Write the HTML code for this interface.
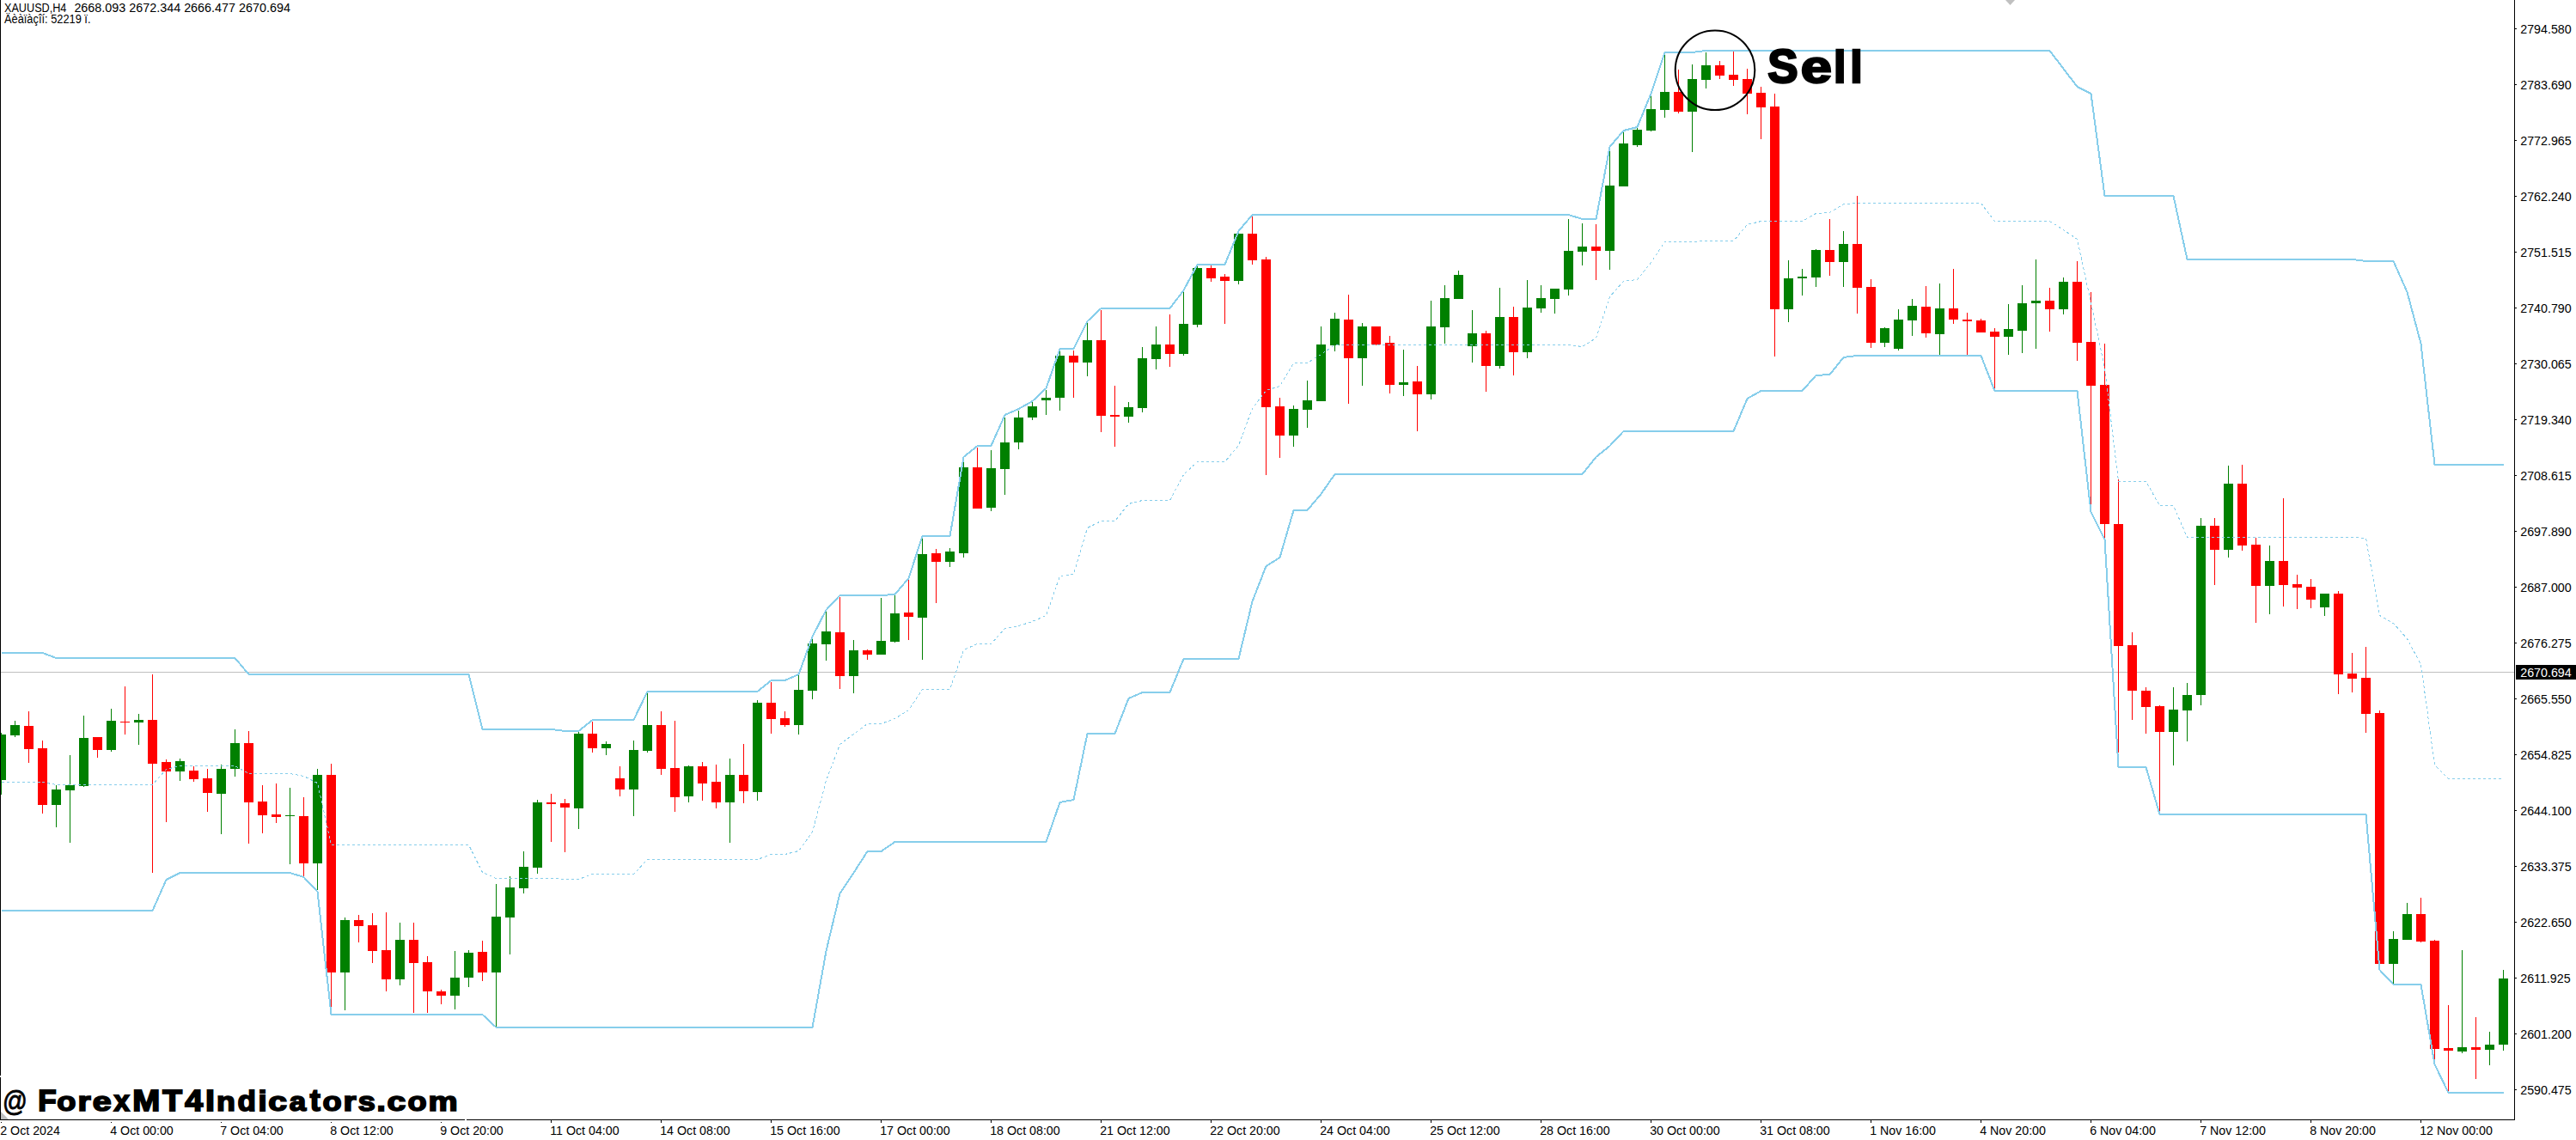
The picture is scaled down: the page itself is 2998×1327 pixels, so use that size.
<!DOCTYPE html>
<html><head><meta charset="utf-8"><title>XAUUSD,H4</title>
<style>html,body{margin:0;padding:0;background:#fff;}body{width:2998px;height:1327px;overflow:hidden;position:relative;font-family:"Liberation Sans",sans-serif;}svg{position:absolute;left:0;top:0;display:block}text{font-family:"Liberation Sans",sans-serif;}</style></head><body>
<svg width="2998" height="1327" viewBox="0 0 2998 1327">
<rect x="0" y="0" width="2998" height="1327" fill="#ffffff"/>
<rect x="1" y="782" width="2925" height="1" fill="#c0c0c0" shape-rendering="crispEdges"/>
<g shape-rendering="crispEdges">
<rect x="1" y="853" width="1" height="72" fill="#008000"/>
<rect x="1" y="855" width="6" height="53" fill="#008000"/>
<rect x="17" y="839" width="1" height="19" fill="#008000"/>
<rect x="12" y="844" width="11" height="12" fill="#008000"/>
<rect x="33" y="828" width="1" height="60" fill="#ff0000"/>
<rect x="28" y="845" width="11" height="27" fill="#ff0000"/>
<rect x="49" y="862" width="1" height="85" fill="#ff0000"/>
<rect x="44" y="871" width="11" height="66" fill="#ff0000"/>
<rect x="65" y="914" width="1" height="49" fill="#008000"/>
<rect x="60" y="919" width="11" height="18" fill="#008000"/>
<rect x="81" y="879" width="1" height="102" fill="#008000"/>
<rect x="76" y="914" width="11" height="6" fill="#008000"/>
<rect x="97" y="833" width="1" height="83" fill="#008000"/>
<rect x="92" y="859" width="11" height="56" fill="#008000"/>
<rect x="113" y="858" width="1" height="24" fill="#ff0000"/>
<rect x="108" y="858" width="11" height="15" fill="#ff0000"/>
<rect x="129" y="825" width="1" height="50" fill="#008000"/>
<rect x="124" y="839" width="11" height="34" fill="#008000"/>
<rect x="145" y="799" width="1" height="56" fill="#ff0000"/>
<rect x="140" y="840" width="11" height="1" fill="#ff0000"/>
<rect x="161" y="831" width="1" height="36" fill="#008000"/>
<rect x="156" y="838" width="11" height="3" fill="#008000"/>
<rect x="177" y="785" width="1" height="231" fill="#ff0000"/>
<rect x="172" y="838" width="11" height="51" fill="#ff0000"/>
<rect x="193" y="884" width="1" height="73" fill="#ff0000"/>
<rect x="188" y="887" width="11" height="11" fill="#ff0000"/>
<rect x="209" y="883" width="1" height="26" fill="#008000"/>
<rect x="204" y="886" width="11" height="12" fill="#008000"/>
<rect x="225" y="892" width="1" height="18" fill="#ff0000"/>
<rect x="220" y="897" width="11" height="10" fill="#ff0000"/>
<rect x="241" y="895" width="1" height="50" fill="#ff0000"/>
<rect x="236" y="906" width="11" height="17" fill="#ff0000"/>
<rect x="257" y="890" width="1" height="81" fill="#008000"/>
<rect x="252" y="895" width="11" height="29" fill="#008000"/>
<rect x="273" y="849" width="1" height="55" fill="#008000"/>
<rect x="268" y="865" width="11" height="30" fill="#008000"/>
<rect x="289" y="851" width="1" height="131" fill="#ff0000"/>
<rect x="284" y="865" width="11" height="69" fill="#ff0000"/>
<rect x="305" y="914" width="1" height="56" fill="#ff0000"/>
<rect x="300" y="933" width="11" height="16" fill="#ff0000"/>
<rect x="321" y="912" width="1" height="46" fill="#ff0000"/>
<rect x="316" y="948" width="11" height="3" fill="#ff0000"/>
<rect x="337" y="917" width="1" height="89" fill="#008000"/>
<rect x="332" y="949" width="11" height="1" fill="#008000"/>
<rect x="353" y="928" width="1" height="92" fill="#ff0000"/>
<rect x="348" y="950" width="11" height="55" fill="#ff0000"/>
<rect x="369" y="895" width="1" height="141" fill="#008000"/>
<rect x="364" y="902" width="11" height="103" fill="#008000"/>
<rect x="385" y="889" width="1" height="284" fill="#ff0000"/>
<rect x="380" y="902" width="11" height="230" fill="#ff0000"/>
<rect x="401" y="1068" width="1" height="108" fill="#008000"/>
<rect x="396" y="1071" width="11" height="61" fill="#008000"/>
<rect x="417" y="1065" width="1" height="32" fill="#ff0000"/>
<rect x="412" y="1071" width="11" height="7" fill="#ff0000"/>
<rect x="433" y="1063" width="1" height="58" fill="#ff0000"/>
<rect x="428" y="1077" width="11" height="30" fill="#ff0000"/>
<rect x="449" y="1062" width="1" height="92" fill="#ff0000"/>
<rect x="444" y="1106" width="11" height="34" fill="#ff0000"/>
<rect x="465" y="1074" width="1" height="73" fill="#008000"/>
<rect x="460" y="1094" width="11" height="46" fill="#008000"/>
<rect x="481" y="1074" width="1" height="105" fill="#ff0000"/>
<rect x="476" y="1094" width="11" height="27" fill="#ff0000"/>
<rect x="497" y="1113" width="1" height="66" fill="#ff0000"/>
<rect x="492" y="1120" width="11" height="34" fill="#ff0000"/>
<rect x="513" y="1152" width="1" height="17" fill="#ff0000"/>
<rect x="508" y="1154" width="11" height="5" fill="#ff0000"/>
<rect x="529" y="1107" width="1" height="68" fill="#008000"/>
<rect x="524" y="1138" width="11" height="21" fill="#008000"/>
<rect x="545" y="1106" width="1" height="43" fill="#008000"/>
<rect x="540" y="1109" width="11" height="29" fill="#008000"/>
<rect x="561" y="1095" width="1" height="47" fill="#ff0000"/>
<rect x="556" y="1108" width="11" height="24" fill="#ff0000"/>
<rect x="577" y="1029" width="1" height="166" fill="#008000"/>
<rect x="572" y="1067" width="11" height="65" fill="#008000"/>
<rect x="593" y="1020" width="1" height="91" fill="#008000"/>
<rect x="588" y="1033" width="11" height="35" fill="#008000"/>
<rect x="609" y="991" width="1" height="49" fill="#008000"/>
<rect x="604" y="1009" width="11" height="25" fill="#008000"/>
<rect x="625" y="931" width="1" height="86" fill="#008000"/>
<rect x="620" y="934" width="11" height="76" fill="#008000"/>
<rect x="641" y="924" width="1" height="56" fill="#ff0000"/>
<rect x="636" y="934" width="11" height="2" fill="#ff0000"/>
<rect x="657" y="930" width="1" height="62" fill="#ff0000"/>
<rect x="652" y="935" width="11" height="5" fill="#ff0000"/>
<rect x="673" y="852" width="1" height="113" fill="#008000"/>
<rect x="668" y="854" width="11" height="87" fill="#008000"/>
<rect x="689" y="840" width="1" height="36" fill="#ff0000"/>
<rect x="684" y="854" width="11" height="17" fill="#ff0000"/>
<rect x="705" y="863" width="1" height="16" fill="#008000"/>
<rect x="700" y="866" width="11" height="5" fill="#008000"/>
<rect x="721" y="892" width="1" height="35" fill="#ff0000"/>
<rect x="716" y="906" width="11" height="13" fill="#ff0000"/>
<rect x="737" y="862" width="1" height="88" fill="#008000"/>
<rect x="732" y="873" width="11" height="46" fill="#008000"/>
<rect x="753" y="807" width="1" height="69" fill="#008000"/>
<rect x="748" y="844" width="11" height="30" fill="#008000"/>
<rect x="769" y="828" width="1" height="74" fill="#ff0000"/>
<rect x="764" y="844" width="11" height="51" fill="#ff0000"/>
<rect x="785" y="839" width="1" height="106" fill="#ff0000"/>
<rect x="780" y="894" width="11" height="34" fill="#ff0000"/>
<rect x="801" y="891" width="1" height="43" fill="#008000"/>
<rect x="796" y="892" width="11" height="35" fill="#008000"/>
<rect x="817" y="887" width="1" height="45" fill="#ff0000"/>
<rect x="812" y="892" width="11" height="20" fill="#ff0000"/>
<rect x="833" y="890" width="1" height="51" fill="#ff0000"/>
<rect x="828" y="910" width="11" height="24" fill="#ff0000"/>
<rect x="849" y="883" width="1" height="98" fill="#008000"/>
<rect x="844" y="902" width="11" height="32" fill="#008000"/>
<rect x="865" y="866" width="1" height="69" fill="#ff0000"/>
<rect x="860" y="902" width="11" height="19" fill="#ff0000"/>
<rect x="881" y="815" width="1" height="117" fill="#008000"/>
<rect x="876" y="818" width="11" height="104" fill="#008000"/>
<rect x="897" y="794" width="1" height="60" fill="#ff0000"/>
<rect x="892" y="818" width="11" height="19" fill="#ff0000"/>
<rect x="913" y="828" width="1" height="18" fill="#ff0000"/>
<rect x="908" y="836" width="11" height="8" fill="#ff0000"/>
<rect x="929" y="786" width="1" height="69" fill="#008000"/>
<rect x="924" y="803" width="11" height="41" fill="#008000"/>
<rect x="945" y="742" width="1" height="72" fill="#008000"/>
<rect x="940" y="749" width="11" height="55" fill="#008000"/>
<rect x="961" y="711" width="1" height="58" fill="#008000"/>
<rect x="956" y="735" width="11" height="15" fill="#008000"/>
<rect x="977" y="695" width="1" height="107" fill="#ff0000"/>
<rect x="972" y="736" width="11" height="51" fill="#ff0000"/>
<rect x="993" y="745" width="1" height="62" fill="#008000"/>
<rect x="988" y="757" width="11" height="30" fill="#008000"/>
<rect x="1009" y="756" width="1" height="12" fill="#ff0000"/>
<rect x="1004" y="757" width="11" height="5" fill="#ff0000"/>
<rect x="1025" y="696" width="1" height="66" fill="#008000"/>
<rect x="1020" y="746" width="11" height="16" fill="#008000"/>
<rect x="1041" y="693" width="1" height="55" fill="#008000"/>
<rect x="1036" y="714" width="11" height="33" fill="#008000"/>
<rect x="1057" y="674" width="1" height="71" fill="#ff0000"/>
<rect x="1052" y="713" width="11" height="5" fill="#ff0000"/>
<rect x="1073" y="626" width="1" height="142" fill="#008000"/>
<rect x="1068" y="645" width="11" height="74" fill="#008000"/>
<rect x="1089" y="639" width="1" height="63" fill="#ff0000"/>
<rect x="1084" y="644" width="11" height="10" fill="#ff0000"/>
<rect x="1105" y="638" width="1" height="22" fill="#008000"/>
<rect x="1100" y="642" width="11" height="12" fill="#008000"/>
<rect x="1121" y="538" width="1" height="111" fill="#008000"/>
<rect x="1116" y="544" width="11" height="100" fill="#008000"/>
<rect x="1137" y="521" width="1" height="71" fill="#ff0000"/>
<rect x="1132" y="544" width="11" height="48" fill="#ff0000"/>
<rect x="1153" y="524" width="1" height="71" fill="#008000"/>
<rect x="1148" y="545" width="11" height="46" fill="#008000"/>
<rect x="1169" y="486" width="1" height="90" fill="#008000"/>
<rect x="1164" y="515" width="11" height="31" fill="#008000"/>
<rect x="1185" y="478" width="1" height="45" fill="#008000"/>
<rect x="1180" y="486" width="11" height="29" fill="#008000"/>
<rect x="1201" y="468" width="1" height="21" fill="#008000"/>
<rect x="1196" y="473" width="11" height="13" fill="#008000"/>
<rect x="1217" y="454" width="1" height="29" fill="#008000"/>
<rect x="1212" y="463" width="11" height="3" fill="#008000"/>
<rect x="1233" y="409" width="1" height="69" fill="#008000"/>
<rect x="1228" y="414" width="11" height="49" fill="#008000"/>
<rect x="1249" y="408" width="1" height="55" fill="#ff0000"/>
<rect x="1244" y="414" width="11" height="8" fill="#ff0000"/>
<rect x="1265" y="376" width="1" height="62" fill="#008000"/>
<rect x="1260" y="396" width="11" height="26" fill="#008000"/>
<rect x="1281" y="361" width="1" height="142" fill="#ff0000"/>
<rect x="1276" y="396" width="11" height="88" fill="#ff0000"/>
<rect x="1297" y="449" width="1" height="71" fill="#ff0000"/>
<rect x="1292" y="483" width="11" height="2" fill="#ff0000"/>
<rect x="1313" y="468" width="1" height="24" fill="#008000"/>
<rect x="1308" y="474" width="11" height="11" fill="#008000"/>
<rect x="1329" y="404" width="1" height="76" fill="#008000"/>
<rect x="1324" y="417" width="11" height="58" fill="#008000"/>
<rect x="1345" y="380" width="1" height="50" fill="#008000"/>
<rect x="1340" y="401" width="11" height="17" fill="#008000"/>
<rect x="1361" y="366" width="1" height="61" fill="#ff0000"/>
<rect x="1356" y="401" width="11" height="11" fill="#ff0000"/>
<rect x="1377" y="339" width="1" height="75" fill="#008000"/>
<rect x="1372" y="377" width="11" height="35" fill="#008000"/>
<rect x="1393" y="310" width="1" height="71" fill="#008000"/>
<rect x="1388" y="312" width="11" height="66" fill="#008000"/>
<rect x="1409" y="309" width="1" height="19" fill="#ff0000"/>
<rect x="1404" y="312" width="11" height="12" fill="#ff0000"/>
<rect x="1425" y="319" width="1" height="58" fill="#ff0000"/>
<rect x="1420" y="322" width="11" height="5" fill="#ff0000"/>
<rect x="1441" y="269" width="1" height="62" fill="#008000"/>
<rect x="1436" y="272" width="11" height="55" fill="#008000"/>
<rect x="1457" y="252" width="1" height="56" fill="#ff0000"/>
<rect x="1452" y="272" width="11" height="31" fill="#ff0000"/>
<rect x="1473" y="299" width="1" height="254" fill="#ff0000"/>
<rect x="1468" y="302" width="11" height="172" fill="#ff0000"/>
<rect x="1489" y="463" width="1" height="70" fill="#ff0000"/>
<rect x="1484" y="473" width="11" height="34" fill="#ff0000"/>
<rect x="1505" y="472" width="1" height="48" fill="#008000"/>
<rect x="1500" y="476" width="11" height="31" fill="#008000"/>
<rect x="1521" y="443" width="1" height="55" fill="#008000"/>
<rect x="1516" y="466" width="11" height="11" fill="#008000"/>
<rect x="1537" y="380" width="1" height="87" fill="#008000"/>
<rect x="1532" y="401" width="11" height="66" fill="#008000"/>
<rect x="1553" y="364" width="1" height="45" fill="#008000"/>
<rect x="1548" y="371" width="11" height="31" fill="#008000"/>
<rect x="1569" y="343" width="1" height="127" fill="#ff0000"/>
<rect x="1564" y="372" width="11" height="45" fill="#ff0000"/>
<rect x="1585" y="376" width="1" height="73" fill="#008000"/>
<rect x="1580" y="380" width="11" height="37" fill="#008000"/>
<rect x="1601" y="380" width="1" height="22" fill="#ff0000"/>
<rect x="1596" y="380" width="11" height="21" fill="#ff0000"/>
<rect x="1617" y="391" width="1" height="67" fill="#ff0000"/>
<rect x="1612" y="399" width="11" height="49" fill="#ff0000"/>
<rect x="1633" y="407" width="1" height="54" fill="#008000"/>
<rect x="1628" y="445" width="11" height="3" fill="#008000"/>
<rect x="1649" y="426" width="1" height="76" fill="#ff0000"/>
<rect x="1644" y="444" width="11" height="15" fill="#ff0000"/>
<rect x="1665" y="350" width="1" height="115" fill="#008000"/>
<rect x="1660" y="380" width="11" height="79" fill="#008000"/>
<rect x="1681" y="332" width="1" height="68" fill="#008000"/>
<rect x="1676" y="347" width="11" height="34" fill="#008000"/>
<rect x="1697" y="315" width="1" height="33" fill="#008000"/>
<rect x="1692" y="320" width="11" height="28" fill="#008000"/>
<rect x="1713" y="361" width="1" height="61" fill="#008000"/>
<rect x="1708" y="388" width="11" height="15" fill="#008000"/>
<rect x="1729" y="385" width="1" height="71" fill="#ff0000"/>
<rect x="1724" y="388" width="11" height="38" fill="#ff0000"/>
<rect x="1745" y="335" width="1" height="94" fill="#008000"/>
<rect x="1740" y="369" width="11" height="57" fill="#008000"/>
<rect x="1761" y="357" width="1" height="80" fill="#ff0000"/>
<rect x="1756" y="369" width="11" height="41" fill="#ff0000"/>
<rect x="1777" y="326" width="1" height="91" fill="#008000"/>
<rect x="1772" y="358" width="11" height="52" fill="#008000"/>
<rect x="1793" y="332" width="1" height="32" fill="#008000"/>
<rect x="1788" y="347" width="11" height="12" fill="#008000"/>
<rect x="1809" y="336" width="1" height="29" fill="#008000"/>
<rect x="1804" y="336" width="11" height="12" fill="#008000"/>
<rect x="1825" y="255" width="1" height="89" fill="#008000"/>
<rect x="1820" y="292" width="11" height="45" fill="#008000"/>
<rect x="1841" y="260" width="1" height="49" fill="#008000"/>
<rect x="1836" y="287" width="11" height="6" fill="#008000"/>
<rect x="1857" y="261" width="1" height="65" fill="#ff0000"/>
<rect x="1852" y="287" width="11" height="5" fill="#ff0000"/>
<rect x="1873" y="176" width="1" height="138" fill="#008000"/>
<rect x="1868" y="216" width="11" height="76" fill="#008000"/>
<rect x="1889" y="154" width="1" height="63" fill="#008000"/>
<rect x="1884" y="167" width="11" height="50" fill="#008000"/>
<rect x="1905" y="148" width="1" height="23" fill="#008000"/>
<rect x="1900" y="151" width="11" height="18" fill="#008000"/>
<rect x="1921" y="110" width="1" height="43" fill="#008000"/>
<rect x="1916" y="127" width="11" height="25" fill="#008000"/>
<rect x="1937" y="63" width="1" height="74" fill="#008000"/>
<rect x="1932" y="107" width="11" height="21" fill="#008000"/>
<rect x="1953" y="81" width="1" height="51" fill="#ff0000"/>
<rect x="1948" y="107" width="11" height="23" fill="#ff0000"/>
<rect x="1969" y="75" width="1" height="102" fill="#008000"/>
<rect x="1964" y="92" width="11" height="38" fill="#008000"/>
<rect x="1985" y="61" width="1" height="42" fill="#008000"/>
<rect x="1980" y="76" width="11" height="17" fill="#008000"/>
<rect x="2001" y="71" width="1" height="21" fill="#ff0000"/>
<rect x="1996" y="76" width="11" height="12" fill="#ff0000"/>
<rect x="2017" y="60" width="1" height="40" fill="#ff0000"/>
<rect x="2012" y="87" width="11" height="6" fill="#ff0000"/>
<rect x="2033" y="80" width="1" height="53" fill="#ff0000"/>
<rect x="2028" y="92" width="11" height="17" fill="#ff0000"/>
<rect x="2049" y="101" width="1" height="61" fill="#ff0000"/>
<rect x="2044" y="108" width="11" height="17" fill="#ff0000"/>
<rect x="2065" y="109" width="1" height="306" fill="#ff0000"/>
<rect x="2060" y="124" width="11" height="236" fill="#ff0000"/>
<rect x="2081" y="303" width="1" height="72" fill="#008000"/>
<rect x="2076" y="324" width="11" height="36" fill="#008000"/>
<rect x="2097" y="313" width="1" height="31" fill="#008000"/>
<rect x="2092" y="322" width="11" height="2" fill="#008000"/>
<rect x="2113" y="290" width="1" height="44" fill="#008000"/>
<rect x="2108" y="291" width="11" height="32" fill="#008000"/>
<rect x="2129" y="255" width="1" height="66" fill="#ff0000"/>
<rect x="2124" y="291" width="11" height="14" fill="#ff0000"/>
<rect x="2145" y="269" width="1" height="65" fill="#008000"/>
<rect x="2140" y="284" width="11" height="21" fill="#008000"/>
<rect x="2161" y="228" width="1" height="137" fill="#ff0000"/>
<rect x="2156" y="284" width="11" height="51" fill="#ff0000"/>
<rect x="2177" y="325" width="1" height="80" fill="#ff0000"/>
<rect x="2172" y="334" width="11" height="65" fill="#ff0000"/>
<rect x="2193" y="381" width="1" height="23" fill="#008000"/>
<rect x="2188" y="382" width="11" height="17" fill="#008000"/>
<rect x="2209" y="360" width="1" height="48" fill="#008000"/>
<rect x="2204" y="372" width="11" height="34" fill="#008000"/>
<rect x="2225" y="348" width="1" height="43" fill="#008000"/>
<rect x="2220" y="356" width="11" height="17" fill="#008000"/>
<rect x="2241" y="333" width="1" height="60" fill="#ff0000"/>
<rect x="2236" y="357" width="11" height="31" fill="#ff0000"/>
<rect x="2257" y="330" width="1" height="83" fill="#008000"/>
<rect x="2252" y="359" width="11" height="30" fill="#008000"/>
<rect x="2273" y="313" width="1" height="64" fill="#ff0000"/>
<rect x="2268" y="359" width="11" height="13" fill="#ff0000"/>
<rect x="2289" y="364" width="1" height="49" fill="#ff0000"/>
<rect x="2284" y="372" width="11" height="2" fill="#ff0000"/>
<rect x="2305" y="371" width="1" height="16" fill="#ff0000"/>
<rect x="2300" y="373" width="11" height="14" fill="#ff0000"/>
<rect x="2321" y="382" width="1" height="72" fill="#ff0000"/>
<rect x="2316" y="386" width="11" height="6" fill="#ff0000"/>
<rect x="2337" y="354" width="1" height="59" fill="#008000"/>
<rect x="2332" y="383" width="11" height="9" fill="#008000"/>
<rect x="2353" y="332" width="1" height="79" fill="#008000"/>
<rect x="2348" y="353" width="11" height="32" fill="#008000"/>
<rect x="2369" y="302" width="1" height="104" fill="#008000"/>
<rect x="2364" y="350" width="11" height="3" fill="#008000"/>
<rect x="2385" y="335" width="1" height="51" fill="#ff0000"/>
<rect x="2380" y="350" width="11" height="10" fill="#ff0000"/>
<rect x="2401" y="323" width="1" height="43" fill="#008000"/>
<rect x="2396" y="328" width="11" height="32" fill="#008000"/>
<rect x="2417" y="304" width="1" height="116" fill="#ff0000"/>
<rect x="2412" y="328" width="11" height="71" fill="#ff0000"/>
<rect x="2433" y="340" width="1" height="248" fill="#ff0000"/>
<rect x="2428" y="398" width="11" height="51" fill="#ff0000"/>
<rect x="2449" y="400" width="1" height="228" fill="#ff0000"/>
<rect x="2444" y="448" width="11" height="162" fill="#ff0000"/>
<rect x="2465" y="558" width="1" height="318" fill="#ff0000"/>
<rect x="2460" y="610" width="11" height="142" fill="#ff0000"/>
<rect x="2481" y="736" width="1" height="102" fill="#ff0000"/>
<rect x="2476" y="751" width="11" height="53" fill="#ff0000"/>
<rect x="2497" y="800" width="1" height="54" fill="#ff0000"/>
<rect x="2492" y="804" width="11" height="19" fill="#ff0000"/>
<rect x="2513" y="821" width="1" height="124" fill="#ff0000"/>
<rect x="2508" y="822" width="11" height="30" fill="#ff0000"/>
<rect x="2529" y="800" width="1" height="91" fill="#008000"/>
<rect x="2524" y="826" width="11" height="26" fill="#008000"/>
<rect x="2545" y="795" width="1" height="68" fill="#008000"/>
<rect x="2540" y="809" width="11" height="18" fill="#008000"/>
<rect x="2561" y="603" width="1" height="218" fill="#008000"/>
<rect x="2556" y="612" width="11" height="197" fill="#008000"/>
<rect x="2577" y="603" width="1" height="78" fill="#ff0000"/>
<rect x="2572" y="612" width="11" height="28" fill="#ff0000"/>
<rect x="2593" y="542" width="1" height="107" fill="#008000"/>
<rect x="2588" y="563" width="11" height="77" fill="#008000"/>
<rect x="2609" y="541" width="1" height="100" fill="#ff0000"/>
<rect x="2604" y="563" width="11" height="72" fill="#ff0000"/>
<rect x="2625" y="626" width="1" height="99" fill="#ff0000"/>
<rect x="2620" y="634" width="11" height="48" fill="#ff0000"/>
<rect x="2641" y="635" width="1" height="80" fill="#008000"/>
<rect x="2636" y="653" width="11" height="29" fill="#008000"/>
<rect x="2657" y="580" width="1" height="126" fill="#ff0000"/>
<rect x="2652" y="653" width="11" height="28" fill="#ff0000"/>
<rect x="2673" y="669" width="1" height="40" fill="#ff0000"/>
<rect x="2668" y="680" width="11" height="4" fill="#ff0000"/>
<rect x="2689" y="674" width="1" height="34" fill="#ff0000"/>
<rect x="2684" y="683" width="11" height="15" fill="#ff0000"/>
<rect x="2705" y="691" width="1" height="26" fill="#008000"/>
<rect x="2700" y="691" width="11" height="16" fill="#008000"/>
<rect x="2721" y="688" width="1" height="120" fill="#ff0000"/>
<rect x="2716" y="691" width="11" height="94" fill="#ff0000"/>
<rect x="2737" y="760" width="1" height="46" fill="#ff0000"/>
<rect x="2732" y="784" width="11" height="6" fill="#ff0000"/>
<rect x="2753" y="753" width="1" height="100" fill="#ff0000"/>
<rect x="2748" y="789" width="11" height="42" fill="#ff0000"/>
<rect x="2769" y="827" width="1" height="295" fill="#ff0000"/>
<rect x="2764" y="830" width="11" height="292" fill="#ff0000"/>
<rect x="2785" y="1084" width="1" height="61" fill="#008000"/>
<rect x="2780" y="1093" width="11" height="29" fill="#008000"/>
<rect x="2801" y="1051" width="1" height="43" fill="#008000"/>
<rect x="2796" y="1064" width="11" height="30" fill="#008000"/>
<rect x="2817" y="1045" width="1" height="52" fill="#ff0000"/>
<rect x="2812" y="1064" width="11" height="32" fill="#ff0000"/>
<rect x="2833" y="1094" width="1" height="140" fill="#ff0000"/>
<rect x="2828" y="1095" width="11" height="126" fill="#ff0000"/>
<rect x="2849" y="1170" width="1" height="101" fill="#ff0000"/>
<rect x="2844" y="1220" width="11" height="3" fill="#ff0000"/>
<rect x="2865" y="1106" width="1" height="120" fill="#008000"/>
<rect x="2860" y="1219" width="11" height="5" fill="#008000"/>
<rect x="2881" y="1184" width="1" height="72" fill="#ff0000"/>
<rect x="2876" y="1219" width="11" height="3" fill="#ff0000"/>
<rect x="2897" y="1201" width="1" height="39" fill="#008000"/>
<rect x="2892" y="1216" width="11" height="6" fill="#008000"/>
<rect x="2913" y="1129" width="1" height="94" fill="#008000"/>
<rect x="2908" y="1139" width="11" height="77" fill="#008000"/>
</g>
<polyline points="1.5,760.0 17.5,760.0 33.5,760.0 49.5,760.0 65.5,766.0 81.5,766.0 97.5,766.0 113.5,766.0 129.5,766.0 145.5,766.0 161.5,766.0 177.5,766.0 193.5,766.0 209.5,766.0 225.5,766.0 241.5,766.0 257.5,766.0 273.5,766.0 289.5,785.0 305.5,785.0 321.5,785.0 337.5,785.0 353.5,785.0 369.5,785.0 385.5,785.0 401.5,785.0 417.5,785.0 433.5,785.0 449.5,785.0 465.5,785.0 481.5,785.0 497.5,785.0 513.5,785.0 529.5,785.0 545.5,785.0 561.5,849.0 577.5,849.0 593.5,849.0 609.5,849.0 625.5,849.0 641.5,849.0 657.5,851.0 673.5,851.0 689.5,838.0 705.5,838.0 721.5,838.0 737.5,838.0 753.5,805.0 769.5,805.0 785.5,805.0 801.5,805.0 817.5,805.0 833.5,805.0 849.5,805.0 865.5,805.0 881.5,805.0 897.5,792.0 913.5,792.0 929.5,785.0 945.5,741.0 961.5,710.0 977.5,693.0 993.5,693.0 1009.5,693.0 1025.5,693.0 1041.5,692.0 1057.5,673.0 1073.5,624.0 1089.5,624.0 1105.5,624.0 1121.5,532.0 1137.5,519.0 1153.5,519.0 1169.5,483.0 1185.5,476.0 1201.5,467.0 1217.5,452.0 1233.5,406.0 1249.5,406.0 1265.5,374.0 1281.5,359.0 1297.5,359.0 1313.5,359.0 1329.5,359.0 1345.5,359.0 1361.5,359.0 1377.5,338.0 1393.5,308.0 1409.5,308.0 1425.5,308.0 1441.5,269.0 1457.5,250.0 1473.5,250.0 1489.5,250.0 1505.5,250.0 1521.5,250.0 1537.5,250.0 1553.5,250.0 1569.5,250.0 1585.5,250.0 1601.5,250.0 1617.5,250.0 1633.5,250.0 1649.5,250.0 1665.5,250.0 1681.5,250.0 1697.5,250.0 1713.5,250.0 1729.5,250.0 1745.5,250.0 1761.5,250.0 1777.5,250.0 1793.5,250.0 1809.5,250.0 1825.5,250.0 1841.5,255.0 1857.5,255.0 1873.5,171.0 1889.5,152.0 1905.5,148.0 1921.5,109.0 1937.5,61.0 1953.5,61.0 1969.5,61.0 1985.5,59.0 2001.5,59.0 2017.5,59.0 2033.5,59.0 2049.5,59.0 2065.5,59.0 2081.5,59.0 2097.5,59.0 2113.5,59.0 2129.5,59.0 2145.5,59.0 2161.5,59.0 2177.5,59.0 2193.5,59.0 2209.5,59.0 2225.5,59.0 2241.5,59.0 2257.5,59.0 2273.5,59.0 2289.5,59.0 2305.5,59.0 2321.5,59.0 2337.5,59.0 2353.5,59.0 2369.5,59.0 2385.5,59.0 2401.5,80.0 2417.5,101.0 2433.5,109.0 2449.5,228.0 2465.5,228.0 2481.5,228.0 2497.5,228.0 2513.5,228.0 2529.5,228.0 2545.5,302.0 2561.5,302.0 2577.5,302.0 2593.5,302.0 2609.5,302.0 2625.5,302.0 2641.5,302.0 2657.5,302.0 2673.5,302.0 2689.5,302.0 2705.5,302.0 2721.5,302.0 2737.5,302.0 2753.5,304.0 2769.5,304.0 2785.5,304.0 2801.5,340.0 2817.5,400.0 2833.5,541.0 2849.5,541.0 2865.5,541.0 2881.5,541.0 2897.5,541.0 2913.5,541.0" fill="none" stroke="#87ceeb" stroke-width="2" stroke-linejoin="round" shape-rendering="crispEdges"/>
<polyline points="1.5,1060.0 17.5,1060.0 33.5,1060.0 49.5,1060.0 65.5,1060.0 81.5,1060.0 97.5,1060.0 113.5,1060.0 129.5,1060.0 145.5,1060.0 161.5,1060.0 177.5,1060.0 193.5,1024.0 209.5,1016.0 225.5,1016.0 241.5,1016.0 257.5,1016.0 273.5,1016.0 289.5,1016.0 305.5,1016.0 321.5,1016.0 337.5,1016.0 353.5,1021.0 369.5,1038.0 385.5,1181.0 401.5,1181.0 417.5,1181.0 433.5,1181.0 449.5,1181.0 465.5,1181.0 481.5,1181.0 497.5,1181.0 513.5,1181.0 529.5,1181.0 545.5,1181.0 561.5,1181.0 577.5,1196.0 593.5,1196.0 609.5,1196.0 625.5,1196.0 641.5,1196.0 657.5,1196.0 673.5,1196.0 689.5,1196.0 705.5,1196.0 721.5,1196.0 737.5,1196.0 753.5,1196.0 769.5,1196.0 785.5,1196.0 801.5,1196.0 817.5,1196.0 833.5,1196.0 849.5,1196.0 865.5,1196.0 881.5,1196.0 897.5,1196.0 913.5,1196.0 929.5,1196.0 945.5,1196.0 961.5,1107.0 977.5,1040.0 993.5,1016.0 1009.5,991.0 1025.5,991.0 1041.5,980.0 1057.5,980.0 1073.5,980.0 1089.5,980.0 1105.5,980.0 1121.5,980.0 1137.5,980.0 1153.5,980.0 1169.5,980.0 1185.5,980.0 1201.5,980.0 1217.5,980.0 1233.5,934.0 1249.5,931.0 1265.5,854.0 1281.5,854.0 1297.5,854.0 1313.5,813.0 1329.5,806.0 1345.5,806.0 1361.5,806.0 1377.5,767.0 1393.5,767.0 1409.5,767.0 1425.5,767.0 1441.5,767.0 1457.5,700.0 1473.5,659.0 1489.5,649.0 1505.5,594.0 1521.5,594.0 1537.5,575.0 1553.5,552.0 1569.5,552.0 1585.5,552.0 1601.5,552.0 1617.5,552.0 1633.5,552.0 1649.5,552.0 1665.5,552.0 1681.5,552.0 1697.5,552.0 1713.5,552.0 1729.5,552.0 1745.5,552.0 1761.5,552.0 1777.5,552.0 1793.5,552.0 1809.5,552.0 1825.5,552.0 1841.5,552.0 1857.5,532.0 1873.5,519.0 1889.5,502.0 1905.5,502.0 1921.5,502.0 1937.5,502.0 1953.5,502.0 1969.5,502.0 1985.5,502.0 2001.5,502.0 2017.5,502.0 2033.5,464.0 2049.5,455.0 2065.5,455.0 2081.5,455.0 2097.5,455.0 2113.5,437.0 2129.5,436.0 2145.5,416.0 2161.5,414.0 2177.5,414.0 2193.5,414.0 2209.5,414.0 2225.5,414.0 2241.5,414.0 2257.5,414.0 2273.5,414.0 2289.5,414.0 2305.5,414.0 2321.5,455.0 2337.5,455.0 2353.5,455.0 2369.5,455.0 2385.5,455.0 2401.5,455.0 2417.5,455.0 2433.5,596.0 2449.5,628.0 2465.5,893.0 2481.5,893.0 2497.5,893.0 2513.5,948.0 2529.5,948.0 2545.5,948.0 2561.5,948.0 2577.5,948.0 2593.5,948.0 2609.5,948.0 2625.5,948.0 2641.5,948.0 2657.5,948.0 2673.5,948.0 2689.5,948.0 2705.5,948.0 2721.5,948.0 2737.5,948.0 2753.5,948.0 2769.5,1129.0 2785.5,1146.0 2801.5,1146.0 2817.5,1146.0 2833.5,1239.0 2849.5,1272.0 2865.5,1272.0 2881.5,1272.0 2897.5,1272.0 2913.5,1272.0" fill="none" stroke="#87ceeb" stroke-width="2" stroke-linejoin="round" shape-rendering="crispEdges"/>
<polyline points="1.5,910.5 17.5,910.5 33.5,910.5 49.5,910.5 65.5,913.5 81.5,913.5 97.5,913.5 113.5,913.5 129.5,913.5 145.5,913.5 161.5,913.5 177.5,913.5 193.5,895.5 209.5,891.5 225.5,891.5 241.5,891.5 257.5,891.5 273.5,891.5 289.5,900.5 305.5,900.5 321.5,900.5 337.5,900.5 353.5,903.5 369.5,911.5 385.5,983.5 401.5,983.5 417.5,983.5 433.5,983.5 449.5,983.5 465.5,983.5 481.5,983.5 497.5,983.5 513.5,983.5 529.5,983.5 545.5,983.5 561.5,1015.5 577.5,1022.5 593.5,1022.5 609.5,1022.5 625.5,1022.5 641.5,1022.5 657.5,1023.5 673.5,1023.5 689.5,1017.5 705.5,1017.5 721.5,1017.5 737.5,1017.5 753.5,1000.5 769.5,1000.5 785.5,1000.5 801.5,1000.5 817.5,1000.5 833.5,1000.5 849.5,1000.5 865.5,1000.5 881.5,1000.5 897.5,994.5 913.5,994.5 929.5,990.5 945.5,968.5 961.5,908.5 977.5,866.5 993.5,854.5 1009.5,842.5 1025.5,842.5 1041.5,836.5 1057.5,826.5 1073.5,802.5 1089.5,802.5 1105.5,802.5 1121.5,756.5 1137.5,749.5 1153.5,749.5 1169.5,731.5 1185.5,728.5 1201.5,723.5 1217.5,716.5 1233.5,670.5 1249.5,668.5 1265.5,614.5 1281.5,606.5 1297.5,606.5 1313.5,586.5 1329.5,582.5 1345.5,582.5 1361.5,582.5 1377.5,552.5 1393.5,537.5 1409.5,537.5 1425.5,537.5 1441.5,518.5 1457.5,475.5 1473.5,454.5 1489.5,449.5 1505.5,422.5 1521.5,422.5 1537.5,412.5 1553.5,401.5 1569.5,401.5 1585.5,401.5 1601.5,401.5 1617.5,401.5 1633.5,401.5 1649.5,401.5 1665.5,401.5 1681.5,401.5 1697.5,401.5 1713.5,401.5 1729.5,401.5 1745.5,401.5 1761.5,401.5 1777.5,401.5 1793.5,401.5 1809.5,401.5 1825.5,401.5 1841.5,403.5 1857.5,393.5 1873.5,345.5 1889.5,327.5 1905.5,325.5 1921.5,305.5 1937.5,281.5 1953.5,281.5 1969.5,281.5 1985.5,280.5 2001.5,280.5 2017.5,280.5 2033.5,261.5 2049.5,257.5 2065.5,257.5 2081.5,257.5 2097.5,257.5 2113.5,248.5 2129.5,247.5 2145.5,237.5 2161.5,236.5 2177.5,236.5 2193.5,236.5 2209.5,236.5 2225.5,236.5 2241.5,236.5 2257.5,236.5 2273.5,236.5 2289.5,236.5 2305.5,236.5 2321.5,257.5 2337.5,257.5 2353.5,257.5 2369.5,257.5 2385.5,257.5 2401.5,267.5 2417.5,278.5 2433.5,352.5 2449.5,428.5 2465.5,560.5 2481.5,560.5 2497.5,560.5 2513.5,588.5 2529.5,588.5 2545.5,625.5 2561.5,625.5 2577.5,625.5 2593.5,625.5 2609.5,625.5 2625.5,625.5 2641.5,625.5 2657.5,625.5 2673.5,625.5 2689.5,625.5 2705.5,625.5 2721.5,625.5 2737.5,625.5 2753.5,626.5 2769.5,716.5 2785.5,725.5 2801.5,743.5 2817.5,773.5 2833.5,890.5 2849.5,906.5 2865.5,906.5 2881.5,906.5 2897.5,906.5 2913.5,906.5" fill="none" stroke="#87ceeb" stroke-width="1" stroke-dasharray="3 3" shape-rendering="crispEdges"/>
<g shape-rendering="crispEdges" fill="#000">
<rect x="0" y="0" width="1" height="1304"/>
<rect x="0" y="1303" width="2927" height="1"/>
<rect x="2926" y="0" width="1" height="1304"/>
<rect x="1" y="1306" width="1" height="1"/>
<rect x="129" y="1306" width="1" height="1"/>
<rect x="257" y="1306" width="1" height="1"/>
<rect x="385" y="1306" width="1" height="1"/>
<rect x="513" y="1306" width="1" height="1"/>
<rect x="641" y="1304" width="1" height="3"/>
<rect x="769" y="1304" width="1" height="3"/>
<rect x="897" y="1304" width="1" height="3"/>
<rect x="1025" y="1304" width="1" height="3"/>
<rect x="1153" y="1304" width="1" height="3"/>
<rect x="1281" y="1304" width="1" height="3"/>
<rect x="1409" y="1304" width="1" height="3"/>
<rect x="1537" y="1304" width="1" height="3"/>
<rect x="1665" y="1304" width="1" height="3"/>
<rect x="1793" y="1304" width="1" height="3"/>
<rect x="1921" y="1304" width="1" height="3"/>
<rect x="2049" y="1304" width="1" height="3"/>
<rect x="2177" y="1304" width="1" height="3"/>
<rect x="2305" y="1304" width="1" height="3"/>
<rect x="2433" y="1304" width="1" height="3"/>
<rect x="2561" y="1304" width="1" height="3"/>
<rect x="2689" y="1304" width="1" height="3"/>
<rect x="2817" y="1304" width="1" height="3"/>
<rect x="2927" y="33" width="2" height="1"/>
<rect x="2927" y="98" width="2" height="1"/>
<rect x="2927" y="163" width="2" height="1"/>
<rect x="2927" y="228" width="2" height="1"/>
<rect x="2927" y="293" width="2" height="1"/>
<rect x="2927" y="358" width="2" height="1"/>
<rect x="2927" y="423" width="2" height="1"/>
<rect x="2927" y="488" width="2" height="1"/>
<rect x="2927" y="553" width="2" height="1"/>
<rect x="2927" y="618" width="2" height="1"/>
<rect x="2927" y="683" width="2" height="1"/>
<rect x="2927" y="748" width="2" height="1"/>
<rect x="2927" y="813" width="2" height="1"/>
<rect x="2927" y="878" width="2" height="1"/>
<rect x="2927" y="943" width="2" height="1"/>
<rect x="2927" y="1008" width="2" height="1"/>
<rect x="2927" y="1073" width="2" height="1"/>
<rect x="2927" y="1138" width="2" height="1"/>
<rect x="2927" y="1203" width="2" height="1"/>
<rect x="2927" y="1268" width="2" height="1"/>
</g>
<rect x="541" y="1303" width="2" height="1" fill="#fff" shape-rendering="crispEdges"/>
<rect x="0" y="1252" width="1" height="2" fill="#fff" shape-rendering="crispEdges"/>
<polygon points="2334,0 2345,0 2339.5,6" fill="#c0c0c0"/>
<polygon points="1,1294 1,1303 10,1303" fill="#c0c0c0"/>
<text transform="translate(2933.2,38.8) scale(1.02,1)" font-size="14" fill="#000">2794.580</text>
<text transform="translate(2933.2,103.8) scale(1.02,1)" font-size="14" fill="#000">2783.690</text>
<text transform="translate(2933.2,168.8) scale(1.02,1)" font-size="14" fill="#000">2772.965</text>
<text transform="translate(2933.2,233.8) scale(1.02,1)" font-size="14" fill="#000">2762.240</text>
<text transform="translate(2933.2,298.8) scale(1.02,1)" font-size="14" fill="#000">2751.515</text>
<text transform="translate(2933.2,363.9) scale(1.02,1)" font-size="14" fill="#000">2740.790</text>
<text transform="translate(2933.2,428.9) scale(1.02,1)" font-size="14" fill="#000">2730.065</text>
<text transform="translate(2933.2,493.9) scale(1.02,1)" font-size="14" fill="#000">2719.340</text>
<text transform="translate(2933.2,558.9) scale(1.02,1)" font-size="14" fill="#000">2708.615</text>
<text transform="translate(2933.2,623.9) scale(1.02,1)" font-size="14" fill="#000">2697.890</text>
<text transform="translate(2933.2,688.9) scale(1.02,1)" font-size="14" fill="#000">2687.000</text>
<text transform="translate(2933.2,753.9) scale(1.02,1)" font-size="14" fill="#000">2676.275</text>
<text transform="translate(2933.2,818.9) scale(1.02,1)" font-size="14" fill="#000">2665.550</text>
<text transform="translate(2933.2,883.9) scale(1.02,1)" font-size="14" fill="#000">2654.825</text>
<text transform="translate(2933.2,948.9) scale(1.02,1)" font-size="14" fill="#000">2644.100</text>
<text transform="translate(2933.2,1014.0) scale(1.02,1)" font-size="14" fill="#000">2633.375</text>
<text transform="translate(2933.2,1079.0) scale(1.02,1)" font-size="14" fill="#000">2622.650</text>
<text transform="translate(2933.2,1144.0) scale(1.02,1)" font-size="14" fill="#000">2611.925</text>
<text transform="translate(2933.2,1209.0) scale(1.02,1)" font-size="14" fill="#000">2601.200</text>
<text transform="translate(2933.2,1274.0) scale(1.02,1)" font-size="14" fill="#000">2590.475</text>
<rect x="2928" y="774" width="70" height="17" fill="#000" shape-rendering="crispEdges"/>
<text transform="translate(2933.2,787.6) scale(1.02,1)" font-size="14" fill="#fff">2670.694</text>
<text transform="translate(0.2,1321) scale(1.017,1)" font-size="14" fill="#000">2 Oct 2024</text>
<text transform="translate(128.2,1321) scale(1.017,1)" font-size="14" fill="#000">4 Oct 00:00</text>
<text transform="translate(256.2,1321) scale(1.017,1)" font-size="14" fill="#000">7 Oct 04:00</text>
<text transform="translate(384.2,1321) scale(1.017,1)" font-size="14" fill="#000">8 Oct 12:00</text>
<text transform="translate(512.2,1321) scale(1.017,1)" font-size="14" fill="#000">9 Oct 20:00</text>
<text transform="translate(640.2,1321) scale(1.017,1)" font-size="14" fill="#000">11 Oct 04:00</text>
<text transform="translate(768.2,1321) scale(1.017,1)" font-size="14" fill="#000">14 Oct 08:00</text>
<text transform="translate(896.2,1321) scale(1.017,1)" font-size="14" fill="#000">15 Oct 16:00</text>
<text transform="translate(1024.2,1321) scale(1.017,1)" font-size="14" fill="#000">17 Oct 00:00</text>
<text transform="translate(1152.2,1321) scale(1.017,1)" font-size="14" fill="#000">18 Oct 08:00</text>
<text transform="translate(1280.2,1321) scale(1.017,1)" font-size="14" fill="#000">21 Oct 12:00</text>
<text transform="translate(1408.2,1321) scale(1.017,1)" font-size="14" fill="#000">22 Oct 20:00</text>
<text transform="translate(1536.2,1321) scale(1.017,1)" font-size="14" fill="#000">24 Oct 04:00</text>
<text transform="translate(1664.2,1321) scale(1.017,1)" font-size="14" fill="#000">25 Oct 12:00</text>
<text transform="translate(1792.2,1321) scale(1.017,1)" font-size="14" fill="#000">28 Oct 16:00</text>
<text transform="translate(1920.2,1321) scale(1.017,1)" font-size="14" fill="#000">30 Oct 00:00</text>
<text transform="translate(2048.2,1321) scale(1.017,1)" font-size="14" fill="#000">31 Oct 08:00</text>
<text transform="translate(2176.2,1321) scale(1.017,1)" font-size="14" fill="#000">1 Nov 16:00</text>
<text transform="translate(2304.2,1321) scale(1.017,1)" font-size="14" fill="#000">4 Nov 20:00</text>
<text transform="translate(2432.2,1321) scale(1.017,1)" font-size="14" fill="#000">6 Nov 04:00</text>
<text transform="translate(2560.2,1321) scale(1.017,1)" font-size="14" fill="#000">7 Nov 12:00</text>
<text transform="translate(2688.2,1321) scale(1.017,1)" font-size="14" fill="#000">8 Nov 20:00</text>
<text transform="translate(2816.2,1321) scale(1.017,1)" font-size="14" fill="#000">12 Nov 00:00</text>
<text x="5" y="14" font-size="14" fill="#000" textLength="72.4" lengthAdjust="spacingAndGlyphs">XAUUSD,H4</text>
<text x="86.4" y="14" font-size="14" fill="#000" textLength="251.5" lengthAdjust="spacingAndGlyphs">2668.093 2672.344 2666.477 2670.694</text>
<text x="5" y="27" font-size="14" fill="#000" textLength="100.5" lengthAdjust="spacingAndGlyphs">&#196;&#232;&#224;&#239;&#224;&#231;&#238;&#237;: 52219 &#239;.</text>
<text id="at" x="2.9" y="1292.8" font-size="33" fill="#000" stroke="#000" stroke-width="0.9" textLength="28.8" lengthAdjust="spacingAndGlyphs">@</text>
<text transform="translate(44.20,1292.90) scale(1.000,1.002)" font-size="35" font-weight="bold" fill="#000" stroke="#000" stroke-width="1.9">F</text>
<text transform="translate(66.28,1292.78) scale(1.034,0.900)" font-size="35" font-weight="bold" fill="#000" stroke="#000" stroke-width="1.9">o</text>
<text transform="translate(90.41,1292.99) scale(1.114,0.911)" font-size="35" font-weight="bold" fill="#000" stroke="#000" stroke-width="1.9">r</text>
<text transform="translate(107.64,1292.78) scale(1.125,0.900)" font-size="35" font-weight="bold" fill="#000" stroke="#000" stroke-width="1.9">e</text>
<text transform="translate(132.41,1292.97) scale(0.942,0.933)" font-size="35" font-weight="bold" fill="#000" stroke="#000" stroke-width="1.9">x</text>
<text transform="translate(154.35,1292.91) scale(1.097,0.992)" font-size="35" font-weight="bold" fill="#000" stroke="#000" stroke-width="1.9">M</text>
<text transform="translate(189.13,1292.90) scale(1.062,1.002)" font-size="35" font-weight="bold" fill="#000" stroke="#000" stroke-width="1.9">T</text>
<text transform="translate(215.24,1293.15) scale(1.075,1.002)" font-size="35" font-weight="bold" fill="#000" stroke="#000" stroke-width="1.9">4</text>
<text transform="translate(239.11,1292.91) scale(1.126,0.992)" font-size="35" font-weight="bold" fill="#000" stroke="#000" stroke-width="1.9">I</text>
<text transform="translate(252.02,1292.99) scale(1.021,0.911)" font-size="35" font-weight="bold" fill="#000" stroke="#000" stroke-width="1.9">n</text>
<text transform="translate(276.60,1292.72) scale(1.000,0.942)" font-size="35" font-weight="bold" fill="#000" stroke="#000" stroke-width="1.9">d</text>
<text transform="translate(300.54,1292.95) scale(1.037,0.950)" font-size="35" font-weight="bold" fill="#000" stroke="#000" stroke-width="1.9">i</text>
<text transform="translate(312.34,1292.78) scale(1.116,0.900)" font-size="35" font-weight="bold" fill="#000" stroke="#000" stroke-width="1.9">c</text>
<text transform="translate(336.80,1292.78) scale(0.998,0.900)" font-size="35" font-weight="bold" fill="#000" stroke="#000" stroke-width="1.9">a</text>
<text transform="translate(360.71,1292.63) scale(1.027,1.012)" font-size="35" font-weight="bold" fill="#000" stroke="#000" stroke-width="1.9">t</text>
<text transform="translate(375.48,1292.78) scale(1.034,0.900)" font-size="35" font-weight="bold" fill="#000" stroke="#000" stroke-width="1.9">o</text>
<text transform="translate(399.62,1292.99) scale(1.106,0.911)" font-size="35" font-weight="bold" fill="#000" stroke="#000" stroke-width="1.9">r</text>
<text transform="translate(416.70,1292.78) scale(1.032,0.900)" font-size="35" font-weight="bold" fill="#000" stroke="#000" stroke-width="1.9">s</text>
<text transform="translate(438.52,1292.91) scale(1.052,0.986)" font-size="35" font-weight="bold" fill="#000" stroke="#000" stroke-width="1.9">.</text>
<text transform="translate(450.44,1292.78) scale(1.116,0.900)" font-size="35" font-weight="bold" fill="#000" stroke="#000" stroke-width="1.9">c</text>
<text transform="translate(474.38,1292.78) scale(1.034,0.900)" font-size="35" font-weight="bold" fill="#000" stroke="#000" stroke-width="1.9">o</text>
<text transform="translate(498.53,1292.99) scale(1.096,0.911)" font-size="35" font-weight="bold" fill="#000" stroke="#000" stroke-width="1.9">m</text>
<circle cx="1996" cy="81.8" r="46.3" fill="none" stroke="#000" stroke-width="2"/>
<text transform="translate(2057.3,95.8) scale(1.02,1.05)" font-size="52" font-weight="bold" fill="#000" stroke="#000" stroke-width="2.4">S</text>
<text transform="translate(2095.65,95.9) scale(1.248,1)" font-size="52" font-weight="bold" fill="#000" stroke="#000" stroke-width="2.4">e</text>
<text transform="translate(2134,95.9)" font-size="52" font-weight="bold" fill="#000" stroke="#000" stroke-width="2.4">l</text>
<text transform="translate(2153.3,95.9)" font-size="52" font-weight="bold" fill="#000" stroke="#000" stroke-width="2.4">l</text>
</svg></body></html>
